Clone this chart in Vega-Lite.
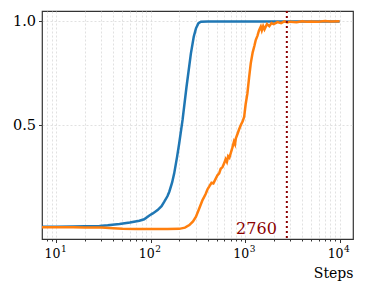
{
  "$schema": "https://vega.github.io/schema/vega-lite/v6.json",
  "autosize": "none",
  "padding": {"left": 42, "top": 11, "right": 13, "bottom": 53},
  "width": 311,
  "height": 228,
  "config": {
    "font": "DejaVu Serif",
    "view": {"stroke": "#333333", "strokeWidth": 1.2},
    "axis": {"domain": false, "labelColor": "#000000", "titleColor": "#000000", "tickColor": "#333333", "gridColor": "#d9d9d9", "gridDash": [2, 2], "gridWidth": 0.8}
  },
  "datasets": {
    "curves": [
      {"series": "blue", "step": 7, "value": 0.014},
      {"series": "blue", "step": 10, "value": 0.014},
      {"series": "blue", "step": 15, "value": 0.015},
      {"series": "blue", "step": 20, "value": 0.016},
      {"series": "blue", "step": 28.6, "value": 0.018},
      {"series": "blue", "step": 35, "value": 0.021},
      {"series": "blue", "step": 46.6, "value": 0.027},
      {"series": "blue", "step": 60, "value": 0.034},
      {"series": "blue", "step": 75.7, "value": 0.043},
      {"series": "blue", "step": 85, "value": 0.05},
      {"series": "blue", "step": 96.6, "value": 0.068},
      {"series": "blue", "step": 105, "value": 0.078},
      {"series": "blue", "step": 118, "value": 0.094},
      {"series": "blue", "step": 130, "value": 0.113},
      {"series": "blue", "step": 139, "value": 0.134},
      {"series": "blue", "step": 150, "value": 0.16},
      {"series": "blue", "step": 157, "value": 0.182},
      {"series": "blue", "step": 168, "value": 0.225},
      {"series": "blue", "step": 177, "value": 0.27},
      {"series": "blue", "step": 190, "value": 0.35},
      {"series": "blue", "step": 200, "value": 0.414},
      {"series": "blue", "step": 217, "value": 0.526},
      {"series": "blue", "step": 239, "value": 0.685},
      {"series": "blue", "step": 266, "value": 0.845},
      {"series": "blue", "step": 285, "value": 0.925},
      {"series": "blue", "step": 301, "value": 0.965},
      {"series": "blue", "step": 320, "value": 0.99},
      {"series": "blue", "step": 340, "value": 0.997},
      {"series": "blue", "step": 400, "value": 0.998},
      {"series": "blue", "step": 10000, "value": 0.998},
      {"series": "orange", "step": 7, "value": 0.012},
      {"series": "orange", "step": 10, "value": 0.012},
      {"series": "orange", "step": 15, "value": 0.012},
      {"series": "orange", "step": 20, "value": 0.011},
      {"series": "orange", "step": 30, "value": 0.01},
      {"series": "orange", "step": 40, "value": 0.007},
      {"series": "orange", "step": 50, "value": 0.004},
      {"series": "orange", "step": 70, "value": 0.003},
      {"series": "orange", "step": 100, "value": 0.003},
      {"series": "orange", "step": 150, "value": 0.003},
      {"series": "orange", "step": 200, "value": 0.004},
      {"series": "orange", "step": 230, "value": 0.01},
      {"series": "orange", "step": 256, "value": 0.022},
      {"series": "orange", "step": 280, "value": 0.04},
      {"series": "orange", "step": 301, "value": 0.062},
      {"series": "orange", "step": 325, "value": 0.1},
      {"series": "orange", "step": 353, "value": 0.142},
      {"series": "orange", "step": 380, "value": 0.17},
      {"series": "orange", "step": 400, "value": 0.195},
      {"series": "orange", "step": 415, "value": 0.206},
      {"series": "orange", "step": 440, "value": 0.225},
      {"series": "orange", "step": 460, "value": 0.222},
      {"series": "orange", "step": 489, "value": 0.246},
      {"series": "orange", "step": 510, "value": 0.262},
      {"series": "orange", "step": 530, "value": 0.27},
      {"series": "orange", "step": 550, "value": 0.292},
      {"series": "orange", "step": 575, "value": 0.3},
      {"series": "orange", "step": 598, "value": 0.318},
      {"series": "orange", "step": 620, "value": 0.338},
      {"series": "orange", "step": 640, "value": 0.325},
      {"series": "orange", "step": 660, "value": 0.352},
      {"series": "orange", "step": 680, "value": 0.345},
      {"series": "orange", "step": 704, "value": 0.368},
      {"series": "orange", "step": 730, "value": 0.392},
      {"series": "orange", "step": 760, "value": 0.422},
      {"series": "orange", "step": 780, "value": 0.41},
      {"series": "orange", "step": 796, "value": 0.438},
      {"series": "orange", "step": 830, "value": 0.46},
      {"series": "orange", "step": 860, "value": 0.48},
      {"series": "orange", "step": 899, "value": 0.502},
      {"series": "orange", "step": 940, "value": 0.52},
      {"series": "orange", "step": 975, "value": 0.541},
      {"series": "orange", "step": 1010, "value": 0.6},
      {"series": "orange", "step": 1055, "value": 0.654},
      {"series": "orange", "step": 1100, "value": 0.73},
      {"series": "orange", "step": 1145, "value": 0.797},
      {"series": "orange", "step": 1200, "value": 0.85},
      {"series": "orange", "step": 1250, "value": 0.88},
      {"series": "orange", "step": 1293, "value": 0.909},
      {"series": "orange", "step": 1350, "value": 0.93},
      {"series": "orange", "step": 1400, "value": 0.955},
      {"series": "orange", "step": 1462, "value": 0.973},
      {"series": "orange", "step": 1500, "value": 0.955},
      {"series": "orange", "step": 1550, "value": 0.975},
      {"series": "orange", "step": 1600, "value": 0.96},
      {"series": "orange", "step": 1650, "value": 0.973},
      {"series": "orange", "step": 1700, "value": 0.985},
      {"series": "orange", "step": 1800, "value": 0.975},
      {"series": "orange", "step": 1900, "value": 0.99},
      {"series": "orange", "step": 2000, "value": 0.985},
      {"series": "orange", "step": 2200, "value": 0.995},
      {"series": "orange", "step": 2400, "value": 0.99},
      {"series": "orange", "step": 2600, "value": 0.998},
      {"series": "orange", "step": 2800, "value": 0.993},
      {"series": "orange", "step": 3000, "value": 0.997},
      {"series": "orange", "step": 3500, "value": 0.994},
      {"series": "orange", "step": 4000, "value": 0.999},
      {"series": "orange", "step": 4500, "value": 0.996},
      {"series": "orange", "step": 5000, "value": 0.998},
      {"series": "orange", "step": 6000, "value": 0.997},
      {"series": "orange", "step": 7000, "value": 1.0},
      {"series": "orange", "step": 8000, "value": 0.998},
      {"series": "orange", "step": 10000, "value": 0.999}
    ],
    "marker": [{"step": 2760, "label": "2760"}],
    "exponents": [
      {"step": 10, "exp": "1"},
      {"step": 100, "exp": "2"},
      {"step": 1000, "exp": "3"},
      {"step": 10000, "exp": "4"}
    ]
  },
  "layer": [
    {
      "data": {"name": "curves"},
      "mark": {"type": "line", "strokeWidth": 2.5, "clip": true},
      "encoding": {
        "x": {
          "field": "step", "type": "quantitative",
          "scale": {"type": "log", "domain": [7.04, 13860], "nice": false},
          "axis": {
            "values": [8, 9, 10, 20, 30, 40, 50, 60, 70, 80, 90, 100, 200, 300, 400, 500, 600, 700, 800, 900, 1000, 2000, 3000, 4000, 5000, 6000, 7000, 8000, 9000, 10000],
            "labelExpr": "datum.value==10||datum.value==100||datum.value==1000||datum.value==10000?'10':''",
            "labelOverlap": false,
            "labelFlush": false,
            "labelFontSize": 12.5,
            "labelPadding": 5,
            "labelOffset": -4.5,
            "tickSize": {"condition": {"test": "datum.value==10||datum.value==100||datum.value==1000||datum.value==10000", "value": 3.5}, "value": 2},
            "title": "Steps",
            "titleAnchor": "end",
            "titleFontWeight": "normal",
            "titleFontSize": 14,
            "titlePadding": 6
          }
        },
        "y": {
          "field": "value", "type": "quantitative",
          "scale": {"domain": [-0.0446, 1.048], "nice": false, "zero": false},
          "axis": {"values": [0.5, 1.0], "format": ".1f", "labelFontSize": 14.5, "tickSize": 3.5, "labelPadding": 3, "title": null}
        },
        "color": {
          "field": "series", "type": "nominal",
          "scale": {"domain": ["blue", "orange"], "range": ["#1f77b4", "#ff7f0e"]},
          "legend": null
        }
      }
    },
    {
      "data": {"name": "marker"},
      "mark": {"type": "rule", "color": "#8b0000", "strokeWidth": 2, "strokeDash": [2, 3]},
      "encoding": {"x": {"field": "step", "type": "quantitative"}}
    },
    {
      "data": {"name": "marker"},
      "mark": {"type": "text", "color": "#8b0000", "fontSize": 16, "align": "right", "baseline": "alphabetic", "dx": -10},
      "encoding": {
        "x": {"field": "step", "type": "quantitative"},
        "y": {"datum": -0.019},
        "text": {"field": "label"}
      }
    },
    {
      "data": {"name": "exponents"},
      "mark": {"type": "text", "color": "#000000", "fontSize": 9, "align": "left", "baseline": "alphabetic", "dx": 4.5},
      "encoding": {
        "x": {"field": "step", "type": "quantitative"},
        "y": {"datum": -0.107},
        "text": {"field": "exp"}
      }
    }
  ]
}
